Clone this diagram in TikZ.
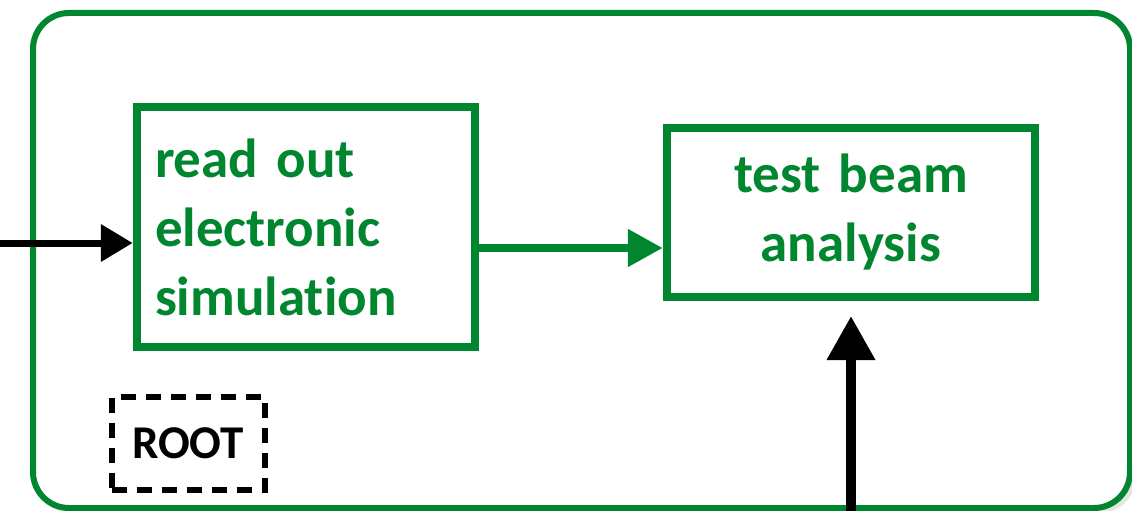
\documentclass[tikz,border=0pt]{standalone}
\usepackage{fontspec}
\setmainfont{Carlito}[Ligatures=NoCommon, WordSpace=0.8]
\usetikzlibrary{arrows.meta}
\definecolor{grn}{RGB}{0,134,46}
\tikzset{
  gbox/.style={draw=grn, line width=8.5pt, text=grn, font=\bfseries\fontsize{55}{69}\selectfont, inner sep=0pt},
  garrow/.style={draw=grn, line width=8pt, -{Triangle[length=35pt,width=36pt]}},
  barrow/.style={draw=black, line width=7pt, -{Triangle[length=32pt,width=36pt]}},
  bigbarrow/.style={draw=black, line width=10pt, -{Triangle[length=44pt,width=46pt]}},
  rootbox/.style={draw=black, line width=6pt, dash pattern=on 15pt off 10pt, font=\bfseries\fontsize{47}{50}\selectfont, minimum width=153pt, minimum height=93pt, inner sep=0pt}
}
\begin{document}
\begin{tikzpicture}[x=1pt,y=-1pt]
\useasboundingbox (0,0) rectangle (1132,511);
\begin{scope}
\clip (0,0) rectangle (1132,511);
\fill[black!20, opacity=0.5, rounded corners=36pt] (35,16) rectangle (1136,513);
\draw[grn, line width=6pt, rounded corners=36pt, fill=white] (33,13) rectangle (1130,508);
\end{scope}
\node[gbox, minimum width=338pt, minimum height=240pt, text width=302pt, align=left] (ro) at (306,227) {read out\\electronic\\simulation};
\node[gbox, minimum width=368pt, minimum height=169pt, text width=340pt, align=center] (tb) at (851,212.5) {test beam\\analysis};
\node[rootbox] (root) at (188,443) {ROOT};
\coordinate (inL) at (0,243);
\coordinate (inB) at (851,511);
\coordinate (tipB) at (851,316);
\draw[garrow] (ro.east |- 0,248) -- (tb.west |- 0,248);
\draw[barrow] (inL) -- (ro.west |- inL);
\draw[bigbarrow] (inB) -- (tipB);
\end{tikzpicture}
\end{document}
